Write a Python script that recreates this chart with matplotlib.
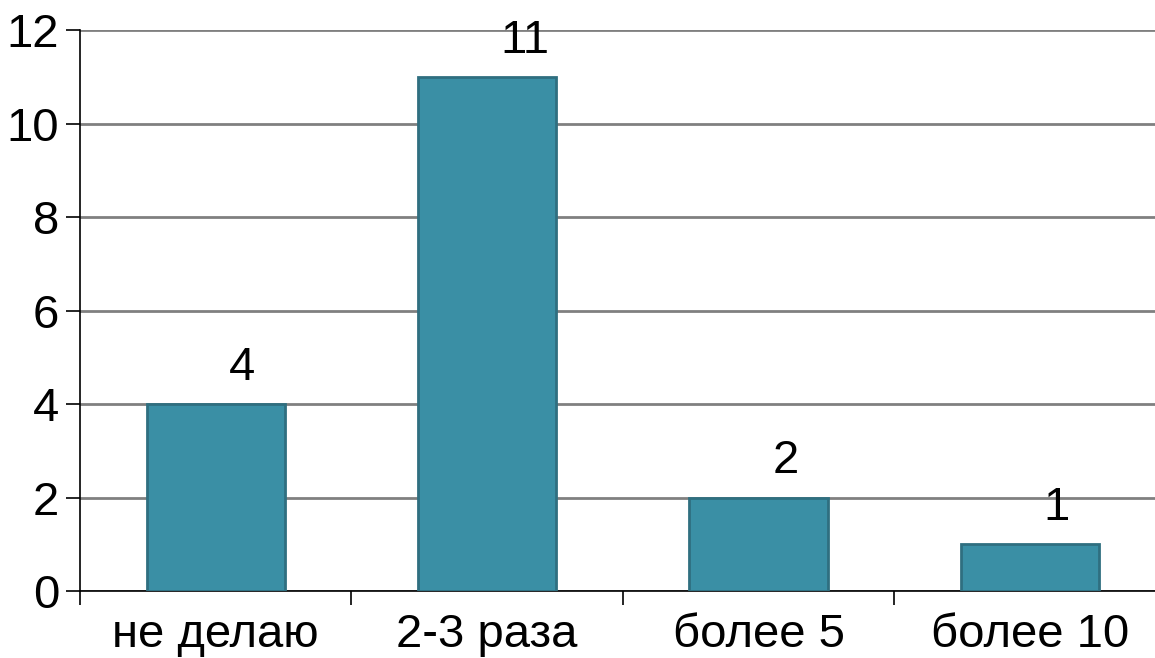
import matplotlib.pyplot as plt

categories = ['не делаю', '2-3 раза', 'более 5', 'более 10']
values = [4, 11, 2, 1]
yticks = [0, 2, 4, 6, 8, 10, 12]

plt.rcParams['font.family'] = ['Liberation Sans', 'DejaVu Sans']

fig = plt.figure(figsize=(11.55, 6.58), dpi=100)
ax = fig.add_axes([0.0693, 0.1018, 0.94, 0.8526])

x = range(len(categories))
bars = ax.bar(x, values, width=0.51, color='#3a8fa5', edgecolor='#2f6f80', linewidth=2, zorder=3)

for xi, v in zip(x, values):
    ax.text(xi + 0.05, v + 0.3, str(v), ha='left', va='bottom', fontsize=34, zorder=4)

ax.set_xlim(-0.5, 3.5)
ax.set_ylim(0, 12)
ax.set_yticks(yticks)
ax.yaxis.grid(True, color='#808080', linewidth=2)
ax.set_axisbelow(True)

ax.set_xticks([0, 1, 2, 3])
ax.set_xticklabels(categories)
ax.set_xticks([-0.5, 0.5, 1.5, 2.5, 3.5], minor=True)
ax.tick_params(axis='x', which='major', length=0, pad=16, labelsize=34)
ax.tick_params(axis='x', which='minor', length=10, width=1.2, direction='out')
ax.tick_params(axis='y', length=10, width=1.2, pad=5, labelsize=34)

for s in ['top', 'right']:
    ax.spines[s].set_visible(False)
ax.spines['left'].set_linewidth(1.2)
ax.spines['bottom'].set_linewidth(1.2)

fig.savefig('out.png', dpi=100)
